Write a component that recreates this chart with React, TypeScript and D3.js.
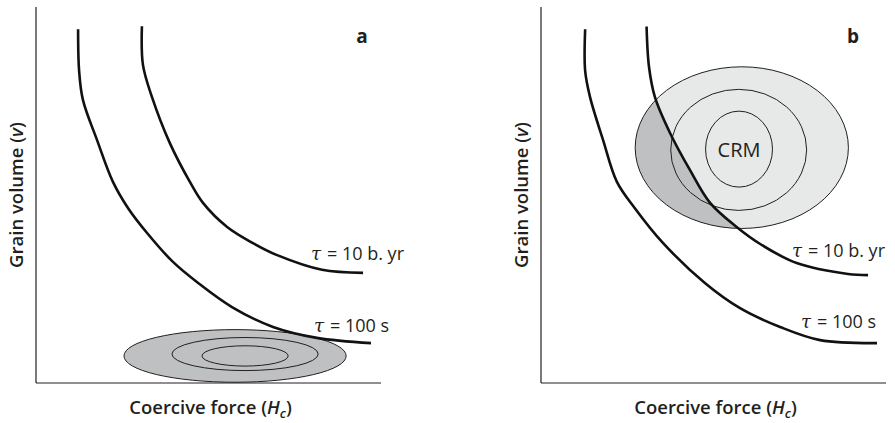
import React from "react";
import * as d3 from "d3";

// Curve data in arbitrary units (x: coercive force 0-100, y: grain volume 0-100)
const aCurve100sX = [12.2, 12.5, 13.6, 17.7, 22.3, 26.7, 32.2, 39.7, 47.0, 56.8, 68.7, 81.4, 97.1];
const aCurve100sY = [94.1, 83.0, 75.3, 64.6, 53.5, 46.5, 39.9, 32.2, 26.6, 20.2, 14.9, 12.0, 10.6];
const aCurve10byrX = [30.7, 31.0, 33.6, 38.8, 44.6, 48.4, 55.4, 62.9, 69.9, 82.9, 94.8];
const aCurve10byrY = [94.9, 84.6, 76.1, 63.8, 53.5, 47.9, 41.5, 37.2, 34.0, 30.1, 29.3];

const bCurve100sX = [12.8, 12.8, 14.2, 18.0, 22.0, 27.2, 35.4, 47.5, 57.7, 69.3, 80.9, 97.4];
const bCurve100sY = [94.1, 83.0, 76.1, 64.6, 53.5, 46.5, 37.2, 26.6, 19.9, 14.9, 11.4, 10.6];
const bCurve10byrX = [30.6, 31.3, 33.0, 37.4, 43.2, 49.0, 56.7, 64.0, 74.1, 89.0, 94.8];
const bCurve10byrY = [94.8, 84.1, 76.1, 66.5, 56.6, 47.9, 41.5, 36.7, 31.9, 29.0, 28.7];

// Ellipses in data units
const aEllipseCX = [57.7, 60.6, 60.6];
const aEllipseCY = [7.2, 7.7, 7.2];
const aEllipseRX = [32.2, 21.2, 12.5];
const aEllipseRY = [7.0, 4.4, 2.7];

const bEllipseCX = [58.2, 57.3, 57.4];
const bEllipseCY = [62.6, 62.0, 62.2];
const bEllipseRX = [30.9, 19.7, 9.7];
const bEllipseRY = [21.5, 16.1, 10.1];

const curveLabels = ["10 b. yr", "100 s"];
const panelLabels = ["a", "b"];
const xAxisTitle = "Coercive force";
const yAxisTitle = "Grain volume";

const FONT = "'Open Sans', 'Noto Sans', sans-serif";
const DARK = "#bfc0c2";
const LIGHT = "#e7e8e8";
const INK = "#231f20";

function zip(xs: number[], ys: number[]): [number, number][] {
  return xs.map((x, i) => [x, ys[i]]);
}

function Panel({ left, which }: { left: number; which: "a" | "b" }) {
  const x = d3.scaleLinear().domain([0, 100]).range([left, left + 345]);
  const y = d3.scaleLinear().domain([0, 100]).range([383, 7]);
  const line = d3
    .line<[number, number]>()
    .x((d) => x(d[0]))
    .y((d) => y(d[1]))
    .curve(d3.curveCatmullRom.alpha(0.5));

  const c100 = which === "a" ? zip(aCurve100sX, aCurve100sY) : zip(bCurve100sX, bCurve100sY);
  const c10 = which === "a" ? zip(aCurve10byrX, aCurve10byrY) : zip(bCurve10byrX, bCurve10byrY);
  const ecx = which === "a" ? aEllipseCX : bEllipseCX;
  const ecy = which === "a" ? aEllipseCY : bEllipseCY;
  const erx = which === "a" ? aEllipseRX : bEllipseRX;
  const ery = which === "a" ? aEllipseRY : bEllipseRY;

  const ell = ecx.map((cx, i) => ({
    cx: x(cx),
    cy: y(ecy[i]),
    rx: x(cx + erx[i]) - x(cx),
    ry: y(ecy[i]) - y(ecy[i] + ery[i]),
  }));

  // clip region left/below of the 10 b.yr curve
  const extra: [number, number][] = [[c10[c10.length - 1][0], 0], [0, 0], [0, c10[0][1]]];
  const clipD = (line(c10) || "") + extra.map((p) => `L${x(p[0])},${y(p[1])}`).join("") + "Z";
  const clipId = `clip-${which}`;

  const lab10 = which === "a" ? { x: 311, y: 260 } : { x: 792, y: 257 };
  const lab100 = which === "a" ? { x: 314, y: 332 } : { x: 801, y: 328 };
  const panelLab = which === "a" ? { x: 362, y: 43 } : { x: 853, y: 43 };
  const xTitleX = (x(0) + x(100)) / 2 + 2;

  return (
    <g>
      <defs>
        <clipPath id={clipId}>
          <path d={clipD} />
        </clipPath>
      </defs>
      {which === "a" ? (
        <ellipse cx={ell[0].cx} cy={ell[0].cy} rx={ell[0].rx} ry={ell[0].ry} fill={DARK} stroke={INK} strokeWidth={1} />
      ) : (
        <>
          <ellipse cx={ell[0].cx} cy={ell[0].cy} rx={ell[0].rx} ry={ell[0].ry} fill={LIGHT} />
          <ellipse cx={ell[0].cx} cy={ell[0].cy} rx={ell[0].rx} ry={ell[0].ry} fill={DARK} clipPath={`url(#${clipId})`} />
          <ellipse cx={ell[0].cx} cy={ell[0].cy} rx={ell[0].rx} ry={ell[0].ry} fill="none" stroke={INK} strokeWidth={1} />
        </>
      )}
      {ell.slice(1).map((e, i) => (
        <ellipse key={i} cx={e.cx} cy={e.cy} rx={e.rx} ry={e.ry} fill="none" stroke={INK} strokeWidth={1} />
      ))}
      {which === "b" && (
        <text x={ell[2].cx} y={ell[2].cy + 8} textAnchor="middle" fontFamily={FONT} fontSize={20} fill={INK}>
          CRM
        </text>
      )}
      <path d={line(c100) || ""} fill="none" stroke="#111" strokeWidth={2.6} />
      <path d={line(c10) || ""} fill="none" stroke="#111" strokeWidth={2.6} />
      {/* axes */}
      <line x1={x(0)} y1={y(100)} x2={x(0)} y2={y(0)} stroke={INK} strokeWidth={1.2} />
      <line x1={x(0)} y1={y(0)} x2={x(100)} y2={y(0)} stroke={INK} strokeWidth={1.2} />
      {/* curve labels */}
      <text x={lab10.x} y={lab10.y} fontFamily={FONT} fontSize={18} fill={INK}>
        <tspan fontStyle="italic" fontFamily="'DejaVu Serif', serif">τ</tspan>
        <tspan dx={6}>= {curveLabels[0]}</tspan>
      </text>
      <text x={lab100.x} y={lab100.y} fontFamily={FONT} fontSize={18} fill={INK}>
        <tspan fontStyle="italic" fontFamily="'DejaVu Serif', serif">τ</tspan>
        <tspan dx={6}>= {curveLabels[1]}</tspan>
      </text>
      <text x={panelLab.x} y={panelLab.y} textAnchor="middle" fontFamily={FONT} fontWeight={700} fontSize={19} fill={INK}>
        {which === "a" ? panelLabels[0] : panelLabels[1]}
      </text>
      {/* axis titles */}
      <text x={xTitleX} y={414} textAnchor="middle" fontFamily={FONT} fontWeight={600} fontSize={18.5} fill={INK}>
        {xAxisTitle} (<tspan fontStyle="italic">H</tspan>
        <tspan fontStyle="italic" fontSize={13} dy={4}>c</tspan>
        <tspan dy={-4}>)</tspan>
      </text>
      <text
        transform={`translate(${x(0) - 13},${195}) rotate(-90)`}
        textAnchor="middle"
        fontFamily={FONT}
        fontWeight={600}
        fontSize={18.5}
        fill={INK}
      >
        {yAxisTitle} (<tspan fontStyle="italic">v</tspan>)
      </text>
    </g>
  );
}

export default function App() {
  return (
    <svg
      width={895}
      height={423}
      viewBox="0 0 895 423"
      style={{ position: "absolute", left: 0, top: 0, background: "#fff" }}
    >
      <rect width={895} height={423} fill="#fff" />
      <Panel left={36} which="a" />
      <Panel left={541} which="b" />
    </svg>
  );
}
